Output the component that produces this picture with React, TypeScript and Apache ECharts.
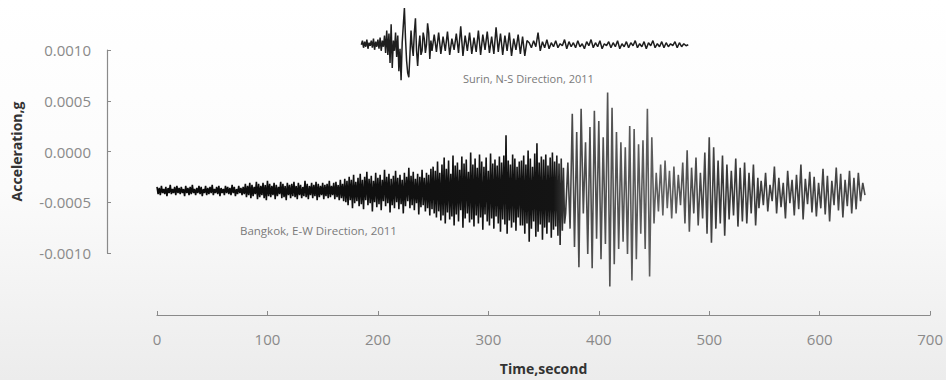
import React, { useEffect, useRef } from "react";
import * as echarts from "echarts";

// amplitudes are in units of 1e-5 g
const UNIT = 1e-5;

// Bangkok E-W record, three segments (start second, sampling step, values)
const bangkokEarlyStart = 0;
const bangkokEarlyStep = 1;
const bangkokEarlyValues = [
  -34,-41,-35,-42,-33,-40,-36,-41,-34,-43,-35,-40,-32,-41,-36,-40,-34,-42,-33,-40,
  -35,-41,-34,-40,-36,-43,-33,-40,-35,-42,-34,-41,-32,-40,-36,-42,-35,-40,-33,-41,
  -34,-43,-36,-40,-33,-42,-35,-41,-34,-40,-32,-42,-36,-40,-34,-41,-33,-43,-35,-40,
  -36,-42,-33,-40,-34,-41,-35,-42,-32,-40,-34,-43,-36,-41,-33,-40,-35,-42,-34,-41,
  -31,-44,-33,-42,-30,-45,-32,-43,-34,-41,-29,-46,-31,-44,-33,-42,-30,-45,-32,-47,
  -28,-43,-31,-44,-33,-42,-30,-46,-32,-43,-34,-41,-29,-45,-31,-44,-33,-47,-30,-42,
  -32,-45,-31,-43,-29,-44,-33,-46,-30,-42,-32,-45,-34,-43,-28,-44,-31,-46,-33,-42,
  -30,-45,-32,-43,-29,-47,-31,-44,-33,-42,-30,-46,-32,-43,-31,-45,-28,-44,-33,-42,
  -30,-46,-29,-44,-32,-47,-27,-45,-31,-48,
  -26,-49,-28,-52,-24,-47,-27,-55,-22,-50,-29,-48,-25,-53,-21,-51,-27,-56,-24,-47,
  -19,-52,-26,-50,-23,-58,-28,-49,-20,-54,-25,-51,-22,-57,-27,-48,-17,-53,-24,-50,
  -21,-59,-26,-52,-23,-55,-18,-49,-25,-56,-22,-51,-27,-60,-20,-53,-24,-48,-15,-55,
  -23,-52,-19,-57,-26,-50,-21,-61,-24,-54,-17,-52,-25,-58,-20,-55,-22,-62,-16,-56,
  -14,-60,-18,-64,-9,-58,-20,-67,-12,-62,-5,-70,-16,-59,-8,-66,-21,-63,-3,-72,
  -13,-61,-10,-68,-17,-57,-4,-74,-11,-65,-7,-60,-19,-69,0,-66,-12,-73,-6,-62,
  -15,-70,-2,-64,-9,-76,-14,-61,-5,-68,-18,-72,-1,-65,-11,-75,-7,-63,-13,-70,
  -4,-78,-10,-66,-3,-71,17,-80,-8,-67,-12,-74,-2,-69,-6,-77,-14,-64,-9,-72,
  -8,-72,-3,-80,-12,-70,2,-88,-6,-75,-14,-68,-1,-83,9,-78,-10,-71,-4,-86,
  -7,-74,-2,-80,-13,-69,-5,-84,0,-76,-9,-73,-3,-82,-11,-91,-6,-77,-15,-70,
];

const bangkokMidStart = 370;
const bangkokMidStep = 2;
const bangkokMidValues = [
  -60,
  -10,-75,38,-93,20,-113,43,-60,10,-100,25,-114,41,-85,31,-105,15,-90,59,-132,
  44,-110,20,-95,10,-88,5,-100,26,-126,23,-105,8,-80,12,-95,43,-122,15,-70,
  -20,-58,-12,-62,-8,-55,-18,-65,-14,-60,-22,-52,
  -10,-70,2,-78,-15,-60,-5,-72,-20,-65,0,-80,15,-89,5,-75,-8,-70,-3,-82,-12,-66,-18,
  -62,-6,-73,-15,-68,-10,-70,-20,-60,-12,-72,-25,
];

const bangkokTailStart = 545;
const bangkokTailStep = 2;
const bangkokTailValues = [
  -55,-28,-52,-20,-58,-32,-48,-14,-60,-25,-54,-30,-65,-18,-50,-27,-62,-22,-56,-12,
  -66,-26,-51,-19,-59,-24,-63,-30,-55,-16,-61,-23,-68,-28,-52,-15,-57,-21,-64,-27,
  -53,-18,-60,-25,-56,-20,-48,-30,-42,
];

// Surin N-S record, two segments
const surinEarlyStart = 185;
const surinEarlyStep = 1;
const surinEarlyValues = [
  106,110,103,109,104,111,102,108,105,110,103,112,101,109,104,111,102,113,100,110,104,115,
  98,120,96,117,88,126,83,110,100,118,94,115,80,102,71,108,125,142,112,90,
  78,74,96,120,104,95,118,132,100,85,104,115,96,100,118,112,98,106,127,118,
  92,110,100,
];

const surinLateStart = 251;
const surinLateStep = 2;
const surinLateValues = [
  116,99,118,97,114,100,119,96,112,101,117,98,124,95,115,100,118,97,113,99,
  120,96,116,101,119,98,114,97,123,99,117,96,115,100,118,95,112,101,116,97,
  114,95,110,
  108,103,110,104,118,100,109,103,111,102,108,104,110,103,107,105,111,102,109,104,
  108,103,110,104,107,102,109,105,111,103,108,104,110,102,107,105,109,103,108,104,
  110,102,107,104,109,103,108,105,110,103,107,104,109,102,108,105,110,103,107,104,
  109,103,108,104,107,105,109,103,108,104,107,105,106,
];

const seriesLabels = ["Surin, N-S Direction, 2011", "Bangkok, E-W Direction, 2011"];
const xTitle = "Time,second";
const yTitle = "Acceleration,g";

const toPoints = (start: number, step: number, vals: number[]) =>
  vals.map((v, i) => [start + i * step, v * UNIT]);

const FONT = "'Open Sans', 'Liberation Sans', sans-serif";

export default function App() {
  const ref = useRef<HTMLDivElement>(null);
  useEffect(() => {
    if (!ref.current) return;
    const chart = echarts.init(ref.current, undefined, { renderer: "svg" });
    const bangkok = [
      ...toPoints(bangkokEarlyStart, bangkokEarlyStep, bangkokEarlyValues),
      ...toPoints(bangkokMidStart, bangkokMidStep, bangkokMidValues),
      ...toPoints(bangkokTailStart, bangkokTailStep, bangkokTailValues),
    ];
    const surin = [
      ...toPoints(surinEarlyStart, surinEarlyStep, surinEarlyValues),
      ...toPoints(surinLateStart, surinLateStep, surinLateValues),
    ];
    chart.setOption({
      animation: false,
      backgroundColor: {
        type: "linear",
        x: 0, y: 0, x2: 0, y2: 1,
        colorStops: [
          { offset: 0, color: "#ffffff" },
          { offset: 0.5, color: "#fbfbfb" },
          { offset: 1, color: "#ececec" },
        ],
      },
      grid: [
        { left: 157, width: 775, top: 0, height: 316 },
        { left: 107, width: 10, top: 50, height: 203 },
      ],
      xAxis: [
        {
          type: "value",
          gridIndex: 0,
          min: 0,
          max: 700,
          interval: 100,
          axisLine: { show: true, onZero: false, lineStyle: { color: "#8a8a8a", width: 1.2 } },
          axisTick: { show: true, inside: true, length: 4, lineStyle: { color: "#8a8a8a" } },
          splitLine: { show: false },
          axisLabel: { color: "#8a8a8a", fontSize: 15, margin: 16, fontFamily: FONT },
          name: xTitle,
          nameLocation: "middle",
          nameGap: 46,
          nameTextStyle: { color: "#333", fontSize: 14, fontWeight: "bold", fontFamily: FONT },
        },
        { type: "value", gridIndex: 1, show: false, min: 0, max: 1 },
      ],
      yAxis: [
        { type: "value", gridIndex: 0, show: false, min: -0.0016, max: 0.0015 },
        {
          type: "value",
          gridIndex: 1,
          min: -0.001,
          max: 0.001,
          interval: 0.0005,
          axisLine: { show: true, onZero: false, lineStyle: { color: "#8a8a8a", width: 1.2 } },
          axisTick: { show: true, inside: true, length: 4, lineStyle: { color: "#8a8a8a" } },
          splitLine: { show: false },
          axisLabel: {
            color: "#8a8a8a",
            fontSize: 15,
            margin: 16,
            fontFamily: FONT,
            formatter: (v: number) => (Math.abs(v) < 1e-9 ? "0.0000" : v.toFixed(4)),
          },
          name: yTitle,
          nameLocation: "middle",
          nameGap: 84,
          nameRotate: 90,
          nameTextStyle: { color: "#333", fontSize: 14, fontWeight: "bold", fontFamily: FONT },
        },
      ],
      series: [
        {
          type: "line",
          xAxisIndex: 0,
          yAxisIndex: 0,
          data: bangkok,
          showSymbol: false,
          symbol: "none",
          lineStyle: {
            width: 1.6,
            color: {
              type: "linear",
              x: 0, y: 0, x2: 1, y2: 0,
              colorStops: [
                { offset: 0, color: "#0a0a0a" },
                { offset: 0.56, color: "#141414" },
                { offset: 0.585, color: "#4a4a4a" },
                { offset: 0.72, color: "#606060" },
                { offset: 0.8, color: "#3a3a3a" },
                { offset: 1, color: "#484848" },
              ],
            },
          },
          silent: true,
        },
        {
          type: "line",
          xAxisIndex: 0,
          yAxisIndex: 0,
          data: surin,
          showSymbol: false,
          symbol: "none",
          lineStyle: { color: "#1e1e1e", width: 1.5 },
          silent: true,
        },
      ],
      graphic: [
        {
          type: "text",
          left: 463,
          top: 73,
          style: { text: seriesLabels[0], fill: "#7a7a7a", fontSize: 11, fontFamily: FONT },
        },
        {
          type: "text",
          left: 240,
          top: 224,
          style: { text: seriesLabels[1], fill: "#7a7a7a", fontSize: 11.5, fontFamily: FONT },
        },
      ],
    });
    return () => chart.dispose();
  }, []);
  return (
    <div
      ref={ref}
      style={{ position: "fixed", left: 0, top: 0, width: 946, height: 380 }}
    />
  );
}
